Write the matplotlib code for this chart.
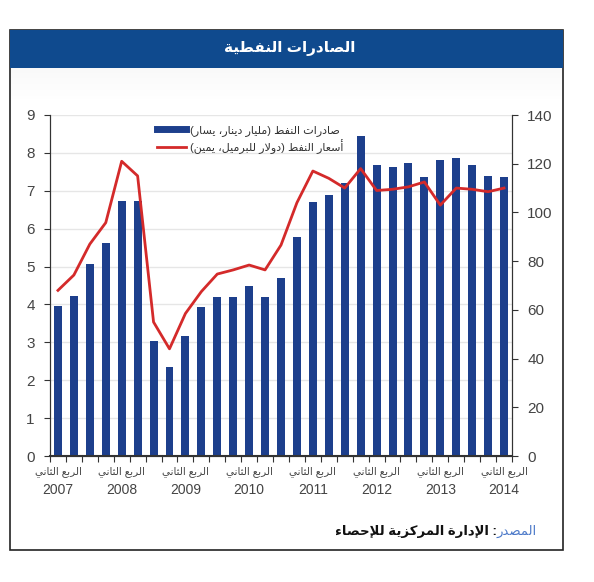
import matplotlib.pyplot as plt
from matplotlib.patches import Rectangle
from matplotlib.lines import Line2D
import numpy as np

# quarterly data, 2007 Q2 .. 2014 Q2
years = [2007, 2008, 2009, 2010, 2011, 2012, 2013, 2014]
exports = [3.96, 4.23, 5.08, 5.61, 6.74, 6.74, 3.03, 2.36, 3.17, 3.92,
           4.20, 4.20, 4.49, 4.20, 4.71, 5.79, 6.71, 6.90, 7.20, 8.45,
           7.68, 7.64, 7.74, 7.36, 7.80, 7.86, 7.68, 7.39, 7.36]
prices = [68, 74.3, 87, 95.8, 121, 115, 55, 44, 58.5, 67.5,
          74.7, 76.4, 78.4, 76.4, 86.6, 104, 117, 114, 110, 118,
          109, 109.5, 110.5, 112.5, 103, 110, 109.5, 108.5, 110]

title = "الصادرات النفطية"
leg_exports = "صادرات النفط (مليار دينار، يسار)"
leg_prices = "أسعار النفط (دولار للبرميل، يمين)"
quarter = "الربع الثاني"
src_head = "المصدر"
src_body = ": الإدارة المركزية للإحصاء"

# tiny arabic shaper (matplotlib has no shaping / bidi)
DUAL = {'ئ': 0xFE89, 'ب': 0xFE8F, 'ت': 0xFE95, 'ث': 0xFE99, 'ج': 0xFE9D,
        'ح': 0xFEA1, 'خ': 0xFEA5, 'س': 0xFEB1, 'ش': 0xFEB5, 'ص': 0xFEB9,
        'ض': 0xFEBD, 'ط': 0xFEC1, 'ظ': 0xFEC5, 'ع': 0xFEC9, 'غ': 0xFECD,
        'ف': 0xFED1, 'ق': 0xFED5, 'ك': 0xFED9, 'ل': 0xFEDD, 'م': 0xFEE1,
        'ن': 0xFEE5, 'ه': 0xFEE9, 'ي': 0xFEF1}
RIGHT = {'آ': 0xFE81, 'أ': 0xFE83, 'ؤ': 0xFE85, 'إ': 0xFE87, 'ا': 0xFE8D,
         'ة': 0xFE93, 'د': 0xFEA9, 'ذ': 0xFEAB, 'ر': 0xFEAD, 'ز': 0xFEAF,
         'و': 0xFEED, 'ى': 0xFEEF}
LAMALEF = {'آ': 0xFEF5, 'أ': 0xFEF7, 'إ': 0xFEF9, 'ا': 0xFEFB}


def ar(text):
    units = []
    i = 0
    while i < len(text):
        c = text[i]
        if c == 'ل' and i + 1 < len(text) and text[i + 1] in LAMALEF:
            units.append(('R', LAMALEF[text[i + 1]]))
            i += 2
            continue
        if c in DUAL:
            units.append(('D', DUAL[c]))
        elif c in RIGHT:
            units.append(('R', RIGHT[c]))
        elif c == 'ء':
            units.append(('N', 0xFE80))
        else:
            units.append(('X', c))
        i += 1
    out = []
    for k, (kind, val) in enumerate(units):
        if kind == 'X':
            out.append(val)
            continue
        prev = units[k - 1][0] if k > 0 else 'X'
        nxt = units[k + 1][0] if k + 1 < len(units) else 'X'
        jp = prev == 'D'
        jn = kind == 'D' and nxt in ('D', 'R')
        if kind == 'N':
            off = 0
        elif kind == 'R':
            off = 1 if jp else 0
        else:
            off = 3 if (jp and jn) else 2 if jn else 1 if jp else 0
        out.append(chr(val + off))
    s = ''.join(reversed(out))
    return s.translate(str.maketrans('()', ')('))


plt.rcParams['font.family'] = ['Liberation Sans', 'DejaVu Sans']

W, H = 594, 582
fig = plt.figure(figsize=(W / 100, H / 100), dpi=100)

# frame and title bar
fig.add_artist(Rectangle((10 / W, 1 - 550 / H), 553 / W, 520 / H,
                         transform=fig.transFigure, fill=False,
                         edgecolor='#222222', lw=1.2))
fig.add_artist(Rectangle((10 / W, 1 - 68 / H), 553 / W, 38 / H,
                         transform=fig.transFigure, facecolor='#0f4a8e',
                         edgecolor='none'))
grad = fig.add_axes([11 / W, 1 - 100 / H, 551 / W, 32 / H], zorder=0)
grad.imshow(np.linspace(0, 1, 50).reshape(-1, 1), cmap='Greys_r',
            vmin=-6, vmax=1, aspect='auto', alpha=0.35)
grad.axis('off')
fig.text(290 / W, 1 - 49 / H, ar(title), color='white', fontsize=11,
         fontweight='bold', ha='center', va='center')

ax = fig.add_axes([50 / W, 1 - 456 / H, 462 / W, 341 / H])
ax2 = ax.twinx()

x = np.arange(len(exports))
ax.bar(x, exports, width=0.5, color='#1d3f8c', zorder=2)
ax2.plot(x, prices, color='#d42a2a', lw=2, zorder=3)

ax.set_xlim(-0.5, 28.45)
ax.set_ylim(0, 9)
ax2.set_ylim(0, 140)
ax.set_yticks(range(0, 10))
ax2.set_yticks(range(0, 141, 20))
ax.grid(axis='y', color='#e6e6e6', lw=1, zorder=0)

ax.set_xticks(np.arange(-0.5, 29, 1))
ax.set_xticklabels([])
year_pos = np.arange(0, 29, 4)
ax.set_xticks(year_pos, minor=True)
ax.set_xticklabels([ar(quarter)] * len(years), minor=True,
                   fontsize=7.5, color='#444444')
ax.tick_params(axis='x', which='minor', length=0, pad=7)
ax.tick_params(axis='x', which='major', length=4, direction='out',
               color='#333333')
for p, y in zip(year_pos, years):
    ax.text(p, -0.1, str(y), transform=ax.get_xaxis_transform(),
            ha='center', va='center', fontsize=10, color='#444444')

for a in (ax, ax2):
    a.spines['top'].set_visible(False)
    for s in ('left', 'right', 'bottom'):
        a.spines[s].set_color('#333333')
    a.tick_params(axis='y', length=4, colors='#333333', labelsize=11,
                  labelcolor='#444444', pad=7)
ax.spines['bottom'].set_linewidth(1.5)

handles = [Line2D([], [], color='#1d3f8c', lw=5),
           Line2D([], [], color='#d42a2a', lw=2)]
ax.legend(handles, [ar(leg_exports), ar(leg_prices)], loc='upper left',
          bbox_to_anchor=(0.21, 1.0), frameon=False, fontsize=8,
          handlelength=2.6, handletextpad=0.4, labelspacing=0.25,
          labelcolor='#333333')

head = fig.text(537 / W, 1 - 531 / H, ar(src_head), color='#4a78c8',
                fontsize=9.5, ha='right', va='center')
ax.annotate(ar(src_body), xy=(0, 0.5), xycoords=head, ha='right',
            va='center', fontsize=9.5, fontweight='bold', color='#111111',
            annotation_clip=False)

fig.savefig('out.png', dpi=100)
